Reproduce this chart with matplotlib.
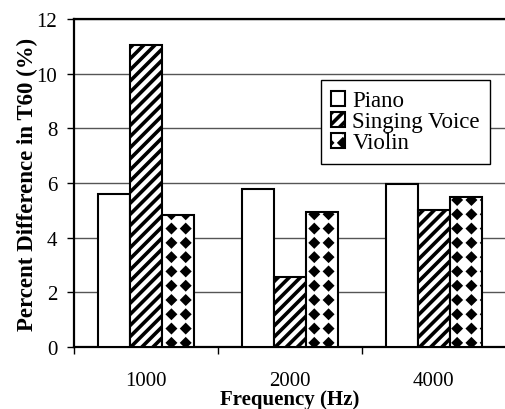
import numpy as np
import matplotlib
matplotlib.use('Agg')
import matplotlib.pyplot as plt
import matplotlib.hatch as mhatch
from matplotlib.path import Path

# data
freqs = ['1000', '2000', '4000']
piano = [5.6, 5.77, 5.96]
singing = [11.07, 2.55, 5.0]
violin = [4.82, 4.93, 5.49]
series_names = ['Piano', 'Singing Voice', 'Violin']
yticks = [0, 2, 4, 6, 8, 10, 12]


# square grid of filled diamonds, takes the place of the '*' hatch
class DiamondHatch(mhatch.HatchPatternBase):
    filled = True

    def __init__(self, hatch, density):
        self.num_rows = hatch.count('*') * 7
        if self.num_rows:
            self.num_vertices = (self.num_rows + 1) ** 2 * 5
        else:
            self.num_vertices = 0

    def set_vertices_and_codes(self, vertices, codes):
        n = self.num_rows
        r = 0.24 / n
        shape = np.array([[0, -r], [r, 0], [0, r], [-r, 0], [0, -r]])
        pos = np.linspace(0, 1, n + 1)
        parts = [shape + [cx, cy] for cy in pos for cx in pos]
        vertices[:] = np.concatenate(parts)
        codes[:] = np.tile([Path.MOVETO, Path.LINETO, Path.LINETO,
                            Path.LINETO, Path.CLOSEPOLY], (n + 1) ** 2)


mhatch._hatch_types = [h for h in mhatch._hatch_types if h.__name__ != 'Stars']
mhatch._hatch_types.append(DiamondHatch)

plt.rcParams['font.family'] = ['Liberation Serif', 'DejaVu Serif']
plt.rcParams['hatch.linewidth'] = 2.6
plt.rcParams['hatch.color'] = 'black'

fig = plt.figure(figsize=(5.05, 4.10), dpi=100)
ax = fig.add_axes([0.1465, 0.151, 0.855, 0.80])

x = np.arange(len(freqs))
w = 0.222
ax.bar(x - w, piano, w, color='white', edgecolor='black', linewidth=1.5,
       label=series_names[0], zorder=3)
ax.bar(x, singing, w, color='white', edgecolor='black', linewidth=1.5,
       hatch='///', label=series_names[1], zorder=3)
ax.bar(x + w, violin, w, color='white', edgecolor='black', linewidth=1.5,
       hatch='*', label=series_names[2], zorder=3)

ax.set_xlim(-0.5, len(freqs) - 0.5)
ax.set_ylim(0, 12)
ax.set_yticks(yticks)
ax.yaxis.grid(True, color='#555555', linewidth=1.0, zorder=0)

ax.set_xticks(x)
ax.set_xticklabels(freqs)
ax.set_xticks(np.arange(len(freqs) + 1) - 0.5, minor=True)
ax.tick_params(axis='x', which='major', length=0, pad=17, labelsize=15)
ax.tick_params(axis='x', which='minor', length=5, width=1, direction='out')
ax.tick_params(axis='y', length=5, width=1, pad=7, labelsize=15)

for s in ['left', 'bottom', 'top']:
    ax.spines[s].set_linewidth(1.6)
ax.spines['right'].set_visible(False)

ax.set_xlabel('Frequency (Hz)', fontsize=15, fontweight='bold', labelpad=-0.5)
ax.set_ylabel('Percent Difference in T60 (%)', fontsize=16.5, fontweight='bold',
              labelpad=-1)

leg = ax.legend(loc='upper left', bbox_to_anchor=(0.572, 0.814),
                borderaxespad=0, fontsize=16.5, fancybox=False, framealpha=1,
                edgecolor='black', handlelength=0.62, handleheight=0.62,
                handletextpad=0.3, labelspacing=0.0, borderpad=0.45)
leg.get_frame().set_linewidth(1.0)

fig.savefig('out.png', dpi=100)
